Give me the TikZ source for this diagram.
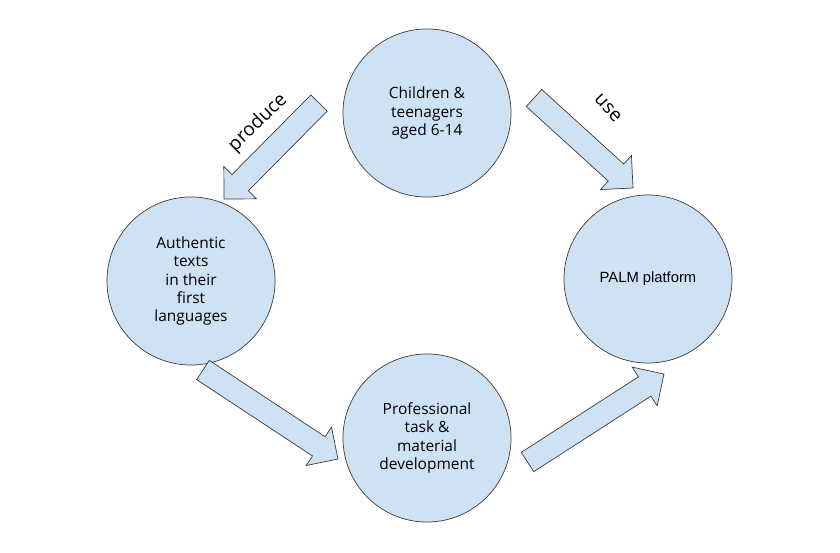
\documentclass[tikz,border=0pt]{standalone}
\usepackage{fontspec}
\setmainfont{Open Sans}
\newfontfamily\arialfont{Liberation Sans}
\usetikzlibrary{calc}
\definecolor{palmblue}{HTML}{CFE2F3}
\definecolor{edgegray}{HTML}{3C3C3C}

\begin{document}
\begin{tikzpicture}[
    x=0.025cm,
    y=-0.025cm,
    font=\fontsize{11}{13}\selectfont,
    stage/.style={
        circle,
        draw=edgegray,
        fill=palmblue,
        line width=0.5pt,
        minimum size=4.2cm,
        align=center,
        inner sep=0pt
    },
    blockarrow/.style={draw=edgegray, fill=palmblue, line width=0.5pt, line join=miter},
    verb/.style={font=\fontsize{13.5}{15}\selectfont, inner sep=1pt}
]

\useasboundingbox (0,0) rectangle (840,552);

\node[stage] (kids) at (427,113) {Children \&\\teenagers\\aged 6-14};
\node[stage] (texts) at (191,281) {Authentic\\texts\\in their\\first\\languages};
\node[stage] (palm) at (648,279) {\fontsize{10.5}{13}\arialfont PALM platform};
\node[stage] (tasks) at (427,438) {Professional\\task \&\\material\\development};

\coordinate (prodtail) at (319,103);
\coordinate (prodtip) at (224,199);
\coordinate (usetail) at (534,98);
\coordinate (usetip) at (633,188);
\coordinate (devtail) at (203,370);
\coordinate (devtip) at (338,459);
\coordinate (pubtail) at (527.5,462);
\coordinate (pubtip) at (664,374);

% block arrows: shaft 23px, head 46px wide and 23px long
\foreach \t/\h in {prodtail/prodtip, usetail/usetip, devtail/devtip, pubtail/pubtip}{
    \coordinate (neck) at ($(\h)!0.575cm!(\t)$);
    \draw[blockarrow] ($(\t)!0.2875cm!90:(\h)$) -- ($(neck)!0.2875cm!90:(\h)$)
        -- ($(neck)!0.575cm!90:(\h)$) -- (\h) -- ($(neck)!0.575cm!-90:(\h)$)
        -- ($(neck)!0.2875cm!-90:(\h)$) -- ($(\t)!0.2875cm!-90:(\h)$) -- cycle;
}

\node[verb, rotate=44] (produce) at (258,123) {produce};
\node[verb, rotate=-48] (use) at (608,108) {use};

\end{tikzpicture}
\end{document}
